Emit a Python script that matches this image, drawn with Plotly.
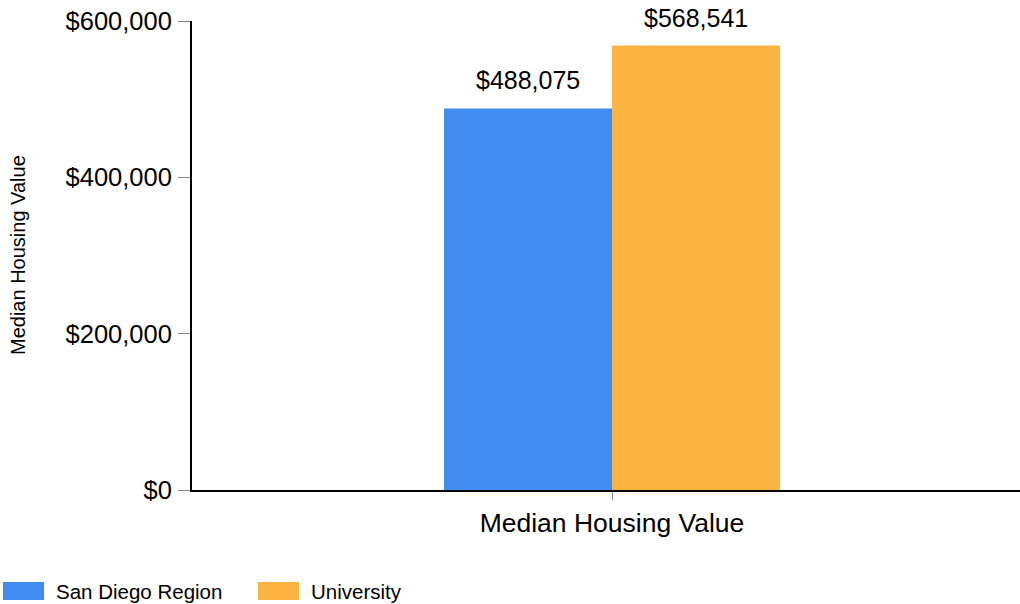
import plotly.graph_objects as go

categories = ["Median Housing Value"]
series_names = ["San Diego Region", "University"]
series_values = [[488075], [568541]]
series_colors = ["#418CF0", "#FCB441"]
y_ticks = [0, 200000, 400000, 600000]
y_tick_labels = ["$0", "$200,000", "$400,000", "$600,000"]
y_title = "Median Housing Value"

FONT = "Liberation Sans, Arial, sans-serif"

# plot area in pixels
L, R, T, B = 192, 0, 21, 114
W, H = 1020, 604
PW, PH = W - L - R, H - T - B


def px_x(px):
    return (px - L) / PW


def px_y(py):
    return (H - B - py) / PH


fig = go.Figure()
for name, vals, col in zip(series_names, series_values, series_colors):
    fig.add_trace(go.Bar(
        x=categories, y=vals, name=name,
        marker=dict(color=col, line=dict(width=0)),
        cliponaxis=False, showlegend=False, hoverinfo="skip",
    ))

# value labels above bars
bar_px = 168
n = len(series_names)
for i, vals in enumerate(series_values):
    for c, v in zip(categories, vals):
        fig.add_annotation(
            x=c, y=v, xref="x", yref="y",
            text="${:,.0f}".format(v), showarrow=False,
            xanchor="center", yanchor="bottom",
            xshift=(i - (n - 1) / 2) * bar_px, yshift=12,
            font=dict(size=25, color="#000000", family=FONT),
        )

# y axis title
fig.add_annotation(
    x=px_x(18), y=px_y(255), xref="paper", yref="paper", text=y_title,
    textangle=-90, showarrow=False, xanchor="center", yanchor="middle",
    font=dict(size=20, color="#000000", family=FONT),
)

# manual legend (wide swatches)
legend_x = [3, 258]
for name, col, lx in zip(series_names, series_colors, legend_x):
    fig.add_shape(type="rect", xref="paper", yref="paper",
                  x0=px_x(lx), x1=px_x(lx + 41), y0=px_y(600), y1=px_y(582),
                  fillcolor=col, line=dict(width=0))
    fig.add_annotation(x=px_x(lx + 51), y=px_y(591), xref="paper", yref="paper",
                       text=name, showarrow=False, xanchor="left", yanchor="middle",
                       font=dict(size=20.5, color="#000000", family=FONT))

fig.update_layout(
    width=W, height=H,
    margin=dict(l=L, r=R, t=T, b=B, autoexpand=False),
    paper_bgcolor="white", plot_bgcolor="white",
    font=dict(family=FONT, color="#000000"),
    barmode="group", bargap=0.6, bargroupgap=0,
    showlegend=False,
    xaxis=dict(range=[-0.5, 0.4857], showline=True, linecolor="#000000", linewidth=2,
               ticks="outside", ticklen=8, tickcolor="#888888", tickwidth=1,
               tickfont=dict(size=26.5), showgrid=False, zeroline=False,
               automargin=False),
    yaxis=dict(range=[0, 600000], tickvals=y_ticks, ticktext=y_tick_labels,
               showline=True, linecolor="#000000", linewidth=2,
               ticks="outside", ticklen=12, tickcolor="#888888", tickwidth=1,
               ticklabelstandoff=1,
               tickfont=dict(size=25.5), showgrid=False, zeroline=False,
               automargin=False),
)

fig.write_html("out.html", config={"displayModeBar": False},
               post_script="document.body.style.margin='0';")
